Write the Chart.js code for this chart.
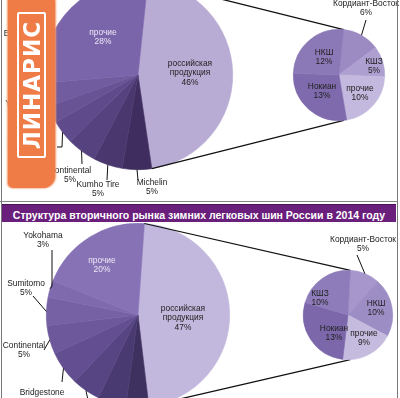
<!DOCTYPE html>
<html>
<head>
<meta charset="utf-8">
<script src="https://cdn.jsdelivr.net/npm/chart.js@4.4.1/dist/chart.umd.min.js"></script>
<style>
  html, body { margin: 0; padding: 0; background: #fff; }
  body { width: 400px; height: 398px; overflow: hidden; position: relative; font-family: "Liberation Sans", Arial, sans-serif; }
  canvas { position: absolute; left: 0; }
  #mainA, #subA { top: -40px; }
  #mainB, #subB { top: 200px; }
  .vline { position: absolute; top: 0; width: 1px; height: 398px; background: #777; }
  #hline { position: absolute; left: 0; top: 201px; width: 398px; height: 1px; background: #888; }
  #title { position: absolute; left: 2px; top: 204px; width: 394px; height: 17px; background: #6b1f7c;
           border-top: 1px solid #4a1158; color: #fff; font-weight: bold; text-align: center; line-height: 17px; white-space: nowrap; }
  #title span { display: inline-block; }
  #logo { position: absolute; left: 8px; top: -6px; width: 47px; height: 194px; background: #ef7b46;
          border-radius: 4px 8px 12px 5px; box-shadow: 1px 0 2px #f39a6e, -1px 0 2px #f39a6e; }
  #logoBox { position: absolute; left: 9px; top: 18px; width: 25px; height: 142px; border: 2px solid #fff; border-radius: 2px; }
  #logoBox span { position: absolute; left: 50%; top: 50%; white-space: nowrap; color: #fff;
                  font: bold 23px "DejaVu Sans Condensed", "Liberation Sans", sans-serif; letter-spacing: 1px;
                  transform: translate(-50%, -50%) rotate(-90deg) scale(1.05, 1); }
</style>
</head>
<body>
<canvas id="mainA" width="400" height="240"></canvas>
<canvas id="subA" width="400" height="240"></canvas>
<canvas id="mainB" width="400" height="240"></canvas>
<canvas id="subB" width="400" height="240"></canvas>
<div class="vline" style="left:1px"></div>
<div class="vline" style="left:397px"></div>
<div id="hline"></div>
<div id="title"><span id="titleText"></span></div>
<div id="logo"><div id="logoBox"><span>ЛИНАРИС</span></div></div>

<script>
// ---- data: upper chart (2013) ----
const mainNamesA = ["российская продукция", "Michelin", "Kumho Tire", "Continental", "Hankook", "Yokohama", "Bridgestone", "прочие"];
const mainValuesA = [46, 5, 5, 5, 4, 3, 4, 28];
const subNamesA = ["Кордиант-Восток", "КШЗ", "прочие", "Нокиан", "НКШ"];
const subValuesA = [6, 5, 10, 13, 12];

// ---- data: lower chart (2014) ----
const mainNamesB = ["российская продукция", "Michelin", "Kumho Tire", "Hankook", "Bridgestone", "Continental", "Sumitomo", "Yokohama", "прочие"];
const mainValuesB = [47, 4, 5, 5, 6, 5, 5, 3, 20];
const subNamesB = ["Кордиант-Восток", "НКШ", "прочие", "Нокиан", "КШЗ"];
const subValuesB = [5, 10, 9, 13, 10];

const titleText = "Структура вторичного рынка зимних легковых шин России в 2014 году";

// colours
const mainColorsA = ["#b8abd4", "#3e2d5e", "#4a376e", "#56427f", "#5f4a8b", "#685395", "#715c9f", "#7b65aa"];
const subColorsA = ["#9c8bc3", "#ad9fd0", "#c3b8de", "#7e6aac", "#8b78b7"];
const mainColorsB = ["#c2b8dd", "#3e305f", "#4a3a72", "#564483", "#624e90", "#6d589c", "#7661a5", "#7f6aae", "#8772b5"];
const subColorsB = ["#a696cb", "#9d8dc5", "#c5bbdf", "#7b67aa", "#8e7cba"];

// label placement, px from the pie centre (Excel-like positions)
const light = "#ece6f6";
const mainLayoutA = [
  { at: [52, -2], wrap: true },
  { at: [14, 112], leader: [[0, 105]] },
  { at: [-40, 114], leader: [[-31, 105]] },
  { at: [-68, 100], leader: [[-56, 89]] },
  { at: [-107, 71], inline: true, leader: [[-76, 72], [-81, 72]] },
  { at: [-113, 33], leader: [[-92, 33]] },
  { at: [-112, -37], leader: [[-93, -30]] },
  { at: [-35, -38], color: light }
];
const subLayoutA = [
  { at: [27, -67], leader: [[27, -55]] },
  { at: [35, -9] },
  { at: [21, 18] },
  { at: [-17, 16] },
  { at: [-15, -18] }
];
const mainLayoutB = [
  { at: [45, 3], wrap: true },
  { at: [10, 110], leader: [[8, 100]] },
  { at: [-20, 110], leader: [[-22, 100]] },
  { at: [-45, 105], leader: [[-50, 85]] },
  { at: [-96, 82], leader: [[-76, 67]] },
  { at: [-114, 35], leader: [[-94, 35]] },
  { at: [-112, -27], leader: [[-105, -19]] },
  { at: [-95, -75], leader: [[-86, -29], [-86, -65]] },
  { at: [-36, -50], color: light }
];
const subLayoutB = [
  { at: [15, -71], leader: [[9, -60]] },
  { at: [28, -7] },
  { at: [16, 23] },
  { at: [-14, 18] },
  { at: [-28, -17] }
];

function makeLabels(layout) {
  return {
    id: "sliceLabels",
    afterDatasetsDraw(chart) {
      const ctx = chart.ctx;
      const meta = chart.getDatasetMeta(0);
      const names = chart.data.labels;
      const values = chart.data.datasets[0].data;
      ctx.save();
      ctx.font = "8.4px 'Liberation Sans', Arial, sans-serif";
      ctx.textAlign = "center";
      ctx.textBaseline = "middle";
      layout.forEach((l, i) => {
        const arc = meta.data[i];
        const cx = arc.x, cy = arc.y, r = arc.outerRadius;
        const mid = (arc.startAngle + arc.endAngle) / 2;
        if (l.leader) {
          ctx.strokeStyle = "#111";
          ctx.lineWidth = 1;
          ctx.beginPath();
          ctx.moveTo(cx + r * Math.cos(mid), cy + r * Math.sin(mid));
          l.leader.forEach(p => ctx.lineTo(cx + p[0], cy + p[1]));
          ctx.stroke();
        }
        const lines = l.wrap ? names[i].split(" ") : [names[i]];
        if (l.inline) lines[lines.length - 1] += " " + values[i] + "%";
        else lines.push(values[i] + "%");
        ctx.fillStyle = l.color || "#222";
        const lh = 9.5;
        lines.forEach((t, k) => ctx.fillText(t, cx + l.at[0], cy + l.at[1] + (k - (lines.length - 1) / 2) * lh));
      });
      ctx.restore();
    }
  };
}

// lines from the "российская продукция" slice to the secondary pie
function makeConnector(sub) {
  return {
    id: "connector",
    afterDatasetsDraw(chart) {
      const a = chart.getDatasetMeta(0).data[0];
      const s = sub.getDatasetMeta(0).data[0];
      const R = a.outerRadius, r = s.outerRadius;
      const ctx = chart.ctx;
      ctx.save();
      ctx.strokeStyle = "#111";
      ctx.lineWidth = 1.2;
      ctx.beginPath();
      ctx.moveTo(a.x + R * Math.cos(a.startAngle), a.y + R * Math.sin(a.startAngle));
      ctx.lineTo(s.x + r * Math.cos(s.startAngle), s.y + r * Math.sin(s.startAngle));
      ctx.moveTo(a.x + R * Math.cos(a.endAngle), a.y + R * Math.sin(a.endAngle));
      ctx.lineTo(s.x + r * Math.cos(s.startAngle), s.y - r * Math.sin(s.startAngle));
      ctx.stroke();
      ctx.restore();
    }
  };
}

function pie(id, names, values, colors, rotation, pad, plugins) {
  return new Chart(document.getElementById(id), {
    type: "pie",
    data: {
      labels: names,
      datasets: [{ data: values, backgroundColor: colors, borderColor: colors, borderWidth: 0.6, hoverOffset: 0 }]
    },
    options: {
      responsive: false,
      animation: false,
      devicePixelRatio: 1,
      rotation: rotation,
      events: [],
      layout: { padding: pad },
      plugins: { legend: { display: false }, tooltip: { enabled: false } }
    },
    plugins: plugins
  });
}

const subA = pie("subA", subNamesA, subValuesA, subColorsA, 6,
  { left: 293, right: 15, top: 69, bottom: 79 }, [makeLabels(subLayoutA)]);
pie("mainA", mainNamesA, mainValuesA, mainColorsA, 6,
  { left: 43, right: 167, top: 20, bottom: 30 }, [makeConnector(subA), makeLabels(mainLayoutA)]);

const subB = pie("subB", subNamesB, subValuesB, subColorsB, 3,
  { left: 303, right: 7, top: 70, bottom: 80 }, [makeLabels(subLayoutB)]);
pie("mainB", mainNamesB, mainValuesB, mainColorsB, 4,
  { left: 46, right: 170, top: 23, bottom: 33 }, [makeConnector(subB), makeLabels(mainLayoutB)]);

// title, shrunk to fit the bar
const t = document.getElementById("titleText");
t.textContent = titleText;
let fs = 13;
t.style.fontSize = fs + "px";
while (t.offsetWidth > 374 && fs > 6) { fs -= 0.25; t.style.fontSize = fs + "px"; }
</script>
</body>
</html>
